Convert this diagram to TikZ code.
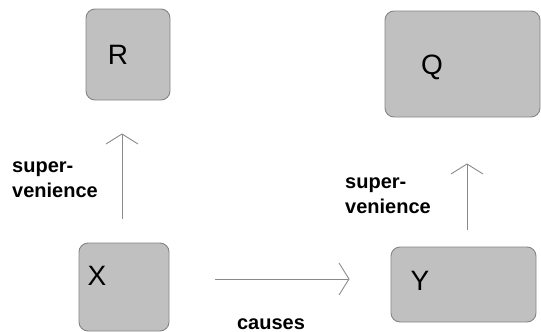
\documentclass[tikz,border=0pt]{standalone}
\usepackage{fontspec}
\setmainfont{Liberation Sans}
\usetikzlibrary{arrows.meta}
\definecolor{boxfill}{HTML}{C0C0C0}
\definecolor{boxline}{HTML}{858585}
\definecolor{arrline}{HTML}{8A8A8A}
\begin{document}
\begin{tikzpicture}[x=1pt, y=-1pt,
          box/.style={draw=boxline, fill=boxfill, rounded corners=9pt, line width=0.9pt, inner sep=0pt},
          letter/.style={font=\fontsize{28}{30}\selectfont, inner sep=0pt},
          lbl/.style={font=\fontsize{20}{25}\selectfont\bfseries, align=left, inner sep=0pt},
          arr/.style={draw=arrline, line width=0.9pt, -{Straight Barb[length=10pt, width=32pt, line width=0.9pt]}}]
        \useasboundingbox (0,0) rectangle (541,332);
        % boxes
        \node[box, minimum width=84pt, minimum height=91pt] (R) at (128,54.5) {};
        \node[box, minimum width=155pt, minimum height=106pt] (Q) at (462.5,64) {};
        \node[box, minimum width=90pt, minimum height=88pt] (X) at (124,287) {};
        \node[box, minimum width=145pt, minimum height=75pt] (Y) at (463.5,284.5) {};
        \node[letter] (tR) at (118,55) {R};
        \node[letter] (tQ) at (432,67) {Q};
        \node[letter] (tX) at (97,276) {X};
        \node[letter] (tY) at (420,281) {Y};
        % arrows
        \draw[arr, shorten <=24pt, shorten >=33pt] ([xshift=-2pt]X.north) -- ([xshift=-6pt]R.south);
        \draw[arr, shorten <=17pt, shorten >=46pt] ([xshift=3.5pt]Y.north) -- ([xshift=4.5pt]Q.south);
        \draw[arr, shorten <=46pt, shorten >=41pt] ([yshift=8pt]X.east) -- ([yshift=5.5pt]Y.west);
        % labels
        \node[lbl, anchor=west] (sl) at (12,180) {super-\\venience};
        \node[lbl, anchor=west] (sr) at (345,195.5) {super-\\venience};
        \node[lbl] (ca) at (271,324) {causes};
\end{tikzpicture}
\end{document}
